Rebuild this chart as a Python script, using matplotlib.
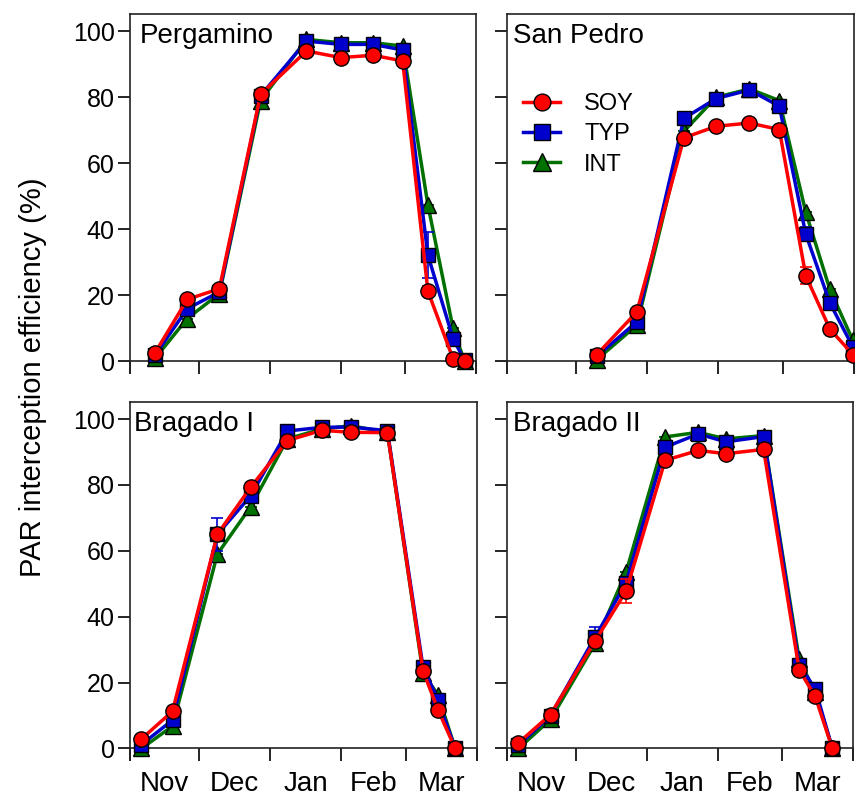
import matplotlib
matplotlib.use("Agg")
import matplotlib.pyplot as plt

plt.rcParams['font.family'] = ['Liberation Sans', 'DejaVu Sans']

# days since 1 Nov
month_edges = [0, 30, 61, 92, 120, 151]
months = ["Nov", "Dec", "Jan", "Feb", "Mar"]
sites = ["Pergamino", "San Pedro", "Bragado I", "Bragado II"]

perg_days = [11, 25, 39, 57, 77, 92, 106, 119, 130, 141, 146]
perg_soy = [2.7, 18.8, 22, 80.9, 94, 92, 92.7, 91, 21.3, 0.8, 0.1]
perg_typ = [2, 16, 21, 80.5, 97, 96, 96, 94.3, 32.2, 6.9, 0.3]
perg_int = [1, 13, 20.5, 79, 97.5, 96.5, 96.5, 95.5, 47.4, 10, 0]
perg_soy_err = [0, 0, 0, 0, 0, 0, 0, 0, 1.5, 0, 0]
perg_typ_err = [0, 0, 0, 0, 0, 0, 0, 0, 7, 0, 0]
perg_int_err = [0, 0, 0, 0, 0, 0, 0, 0, 0, 0, 0]

sp_days = [39, 56.5, 77, 91, 105.5, 118.5, 130, 140.5, 150.5]
sp_soy = [2, 15, 67.7, 71.2, 72.2, 70.2, 26, 9.8, 2.1]
sp_typ = [1.5, 12, 73.6, 79.6, 82.2, 77.3, 38.6, 17.7, 4.4]
sp_int = [0.5, 11, 69.7, 80, 82.5, 79, 45.2, 21.8, 6.4]
sp_soy_err = [0, 0, 0, 0, 0, 0, 2.5, 0, 0]
sp_typ_err = [0, 0, 0, 0, 0, 0, 2, 0, 0]
sp_int_err = [0, 0, 0, 0, 0, 0, 0, 0, 0]

b1_days = [5, 18.5, 38, 52.5, 68.5, 83.5, 96, 112, 127.5, 134, 141.5]
b1_soy = [2.9, 11.3, 65, 79.3, 93.5, 96.6, 96, 95.9, 23.6, 11.8, 0]
b1_typ = [1.2, 8.6, 65, 76.7, 96.4, 97.5, 97.6, 96.5, 24.7, 14.8, 0]
b1_int = [0, 6.8, 59, 73.4, 94, 97, 98, 96, 22.9, 16.3, 0]
b1_soy_err = [0, 0, 0, 0, 0, 0, 0, 0, 0, 0, 0]
b1_typ_err = [0, 0, 5, 0, 0, 0, 0, 0, 0, 0, 0]
b1_int_err = [0, 0, 0, 0, 0, 0, 0, 0, 0, 0, 0]

b2_days = [5, 19, 38.5, 52, 69, 83.5, 95.5, 112, 127.5, 134.5, 142]
b2_soy = [1.7, 10.3, 32.7, 47.8, 87.5, 90.5, 89.5, 90.8, 23.9, 15.8, 0]
b2_typ = [1, 10, 33.9, 50.3, 91.5, 95.5, 93.1, 94.7, 25.4, 18.1, 0]
b2_int = [0, 8.8, 31.9, 53.6, 94.6, 96, 94, 95, 27.1, 17, 0]
b2_soy_err = [0, 0, 0, 3.6, 0, 0, 0, 0, 0, 0, 0]
b2_typ_err = [0, 0, 3, 0, 0, 0, 0, 0, 0, 0, 0]
b2_int_err = [0, 0, 0, 0, 0, 0, 0, 0, 0, 0, 0]

panels = [
    (perg_days, perg_soy, perg_typ, perg_int, perg_soy_err, perg_typ_err, perg_int_err),
    (sp_days, sp_soy, sp_typ, sp_int, sp_soy_err, sp_typ_err, sp_int_err),
    (b1_days, b1_soy, b1_typ, b1_int, b1_soy_err, b1_typ_err, b1_int_err),
    (b2_days, b2_soy, b2_typ, b2_int, b2_soy_err, b2_typ_err, b2_int_err),
]

fig = plt.figure(figsize=(8.59, 7.95), dpi=100)
W, H = 859, 795
boxes = [(130, 14, 476, 373), (507, 14, 854, 373),
         (130, 402, 477, 760), (507, 402, 853, 760)]
title_x = [0.028, 0.018, 0.012, 0.016]

styles = [('INT', '#007000', '^', 12), ('TYP', '#0000cc', 's', 10), ('SOY', '#ff0000', 'o', 11)]

for i, (x0, y0, x1, y1) in enumerate(boxes):
    ax = fig.add_axes([x0 / W, 1 - y1 / H, (x1 - x0) / W, (y1 - y0) / H])
    days, soy, typ, itn, esoy, etyp, eint = panels[i]
    series = {'SOY': (soy, esoy), 'TYP': (typ, etyp), 'INT': (itn, eint)}

    # green below, red on top
    handles = {}
    for z, (name, col, mk, ms) in enumerate(styles):
        vals, err = series[name]
        ax.errorbar(days, vals, yerr=err, fmt='none', ecolor=col, capsize=4,
                    elinewidth=1.2, capthick=1.2, zorder=2 + 2 * z)
        handles[name], = ax.plot(days, vals, color=col, lw=2.5, marker=mk, ms=ms,
                                 mfc=col, mec='black', mew=1, label=name,
                                 zorder=3 + 2 * z)

    ax.set_xlim(0, 151)
    ax.set_ylim(-3.5, 105.2)
    ax.spines['bottom'].set_position(('data', 0))
    for s in ax.spines.values():
        s.set_linewidth(1.2)
        s.set_color('#222222')

    ax.set_xticks(month_edges)
    ax.set_xticklabels([])
    mids = [(month_edges[k] + month_edges[k + 1]) / 2 for k in range(5)]
    ax.set_xticks(mids, months, minor=True)
    ax.tick_params(axis='x', which='major', direction='out', length=9, width=1.2)
    ax.tick_params(axis='x', which='minor', length=0, pad=16, labelsize=20)
    ax.set_yticks([0, 20, 40, 60, 80, 100])
    ax.tick_params(axis='y', direction='out', length=9, width=1.2, labelsize=18, pad=2)

    if i < 2:
        ax.tick_params(axis='x', which='minor', labelbottom=False)
    if i % 2 == 1:
        ax.set_yticklabels([])

    ax.text(title_x[i], 0.975, sites[i], transform=ax.transAxes, fontsize=20,
            va='top', ha='left')

    if i == 1:
        ax.legend([handles['SOY'], handles['TYP'], handles['INT']], ['SOY', 'TYP', 'INT'],
                  loc='upper left', bbox_to_anchor=(0.045, 0.78),
                  frameon=False, fontsize=17, handlelength=1.6, handletextpad=1.0,
                  labelspacing=0.35, borderpad=0, borderaxespad=0, markerscale=1.1)

fig.text(33 / W, 0.526, "PAR interception efficiency (%)", rotation=90,
         fontsize=21, ha='center', va='center')

fig.savefig("out.png", dpi=100)
